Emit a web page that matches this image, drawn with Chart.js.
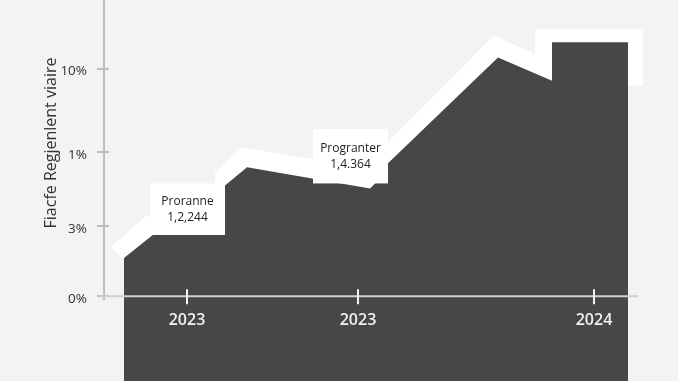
<!DOCTYPE html>
<html>
<head>
<meta charset="utf-8">
<script src="https://cdn.jsdelivr.net/npm/chart.js@4/dist/chart.umd.min.js"></script>
<style>
  html, body { margin: 0; padding: 0; background: #f3f3f3; }
  canvas { display: block; }
</style>
</head>
<body>
<canvas id="chart" width="678" height="381"></canvas>
<script>
// area outline (x in months-ish units, y in axis units)
const areaX = [1.0, 2.45, 6.05, 6.05, 7.15, 13.3, 13.6, 14.2, 14.2, 19.7, 22.4, 22.4, 26.2];
const areaY = [1.52, 2.44, 2.44, 4.4, 5.12, 4.28, 4.52, 4.52, 5.28, 9.48, 8.56, 10.08, 10.08];

// white halo that runs along the top of the area
const haloX = [0.7, 2.3, 6.05, 6.05, 7.05, 13.3, 14.2, 14.2, 19.6, 22.05, 22.05, 26.45, 26.45];
const haloY = [1.68, 2.8, 2.8, 4.76, 5.48, 4.68, 4.88, 5.56, 9.88, 9.0, 10.2, 10.2, 8.36];

const xTickValues = [4.15, 12.7, 24.5];
const xTickLabels = ['2023', '2023', '2024'];
const yTickValues = [0, 2.8, 5.72, 9.04];
const yTickLabels = ['0%', '3%', '1%', '10%'];

const yTitle = 'Fiacfe Regjenlent viaire';

// callout boxes: [xFrom, xTo, yFrom, yTo] in data units + text lines
const callouts = [
  { box: [2.3, 6.05, 2.44, 4.48], lines: ['Proranne', '1,2,244'] },
  { box: [10.45, 14.2, 4.48, 6.64], lines: ['Progranter', '1,4.364'] }
];

const toPoints = (xs, ys) => xs.map((x, i) => ({ x: x, y: ys[i] }));

const decor = {
  id: 'decor',
  afterDatasetsDraw(chart) {
    const { ctx, chartArea, scales: { x, y } } = chart;
    ctx.save();

    // callouts
    callouts.forEach(c => {
      const x1 = x.getPixelForValue(c.box[0]), x2 = x.getPixelForValue(c.box[1]);
      const y1 = y.getPixelForValue(c.box[3]), y2 = y.getPixelForValue(c.box[2]);
      ctx.fillStyle = '#ffffff';
      ctx.fillRect(x1, y1, x2 - x1, y2 - y1);
      ctx.fillStyle = '#222';
      ctx.font = '12px "Open Sans"';
      ctx.textAlign = 'center';
      ctx.textBaseline = 'middle';
      const cx = (x1 + x2) / 2, cy = (y1 + y2) / 2;
      c.lines.forEach((t, i) => ctx.fillText(t, cx, cy + (i - (c.lines.length - 1) / 2) * 16));
    });

    // axes
    const zeroY = y.getPixelForValue(0);
    const left = chartArea.left;
    ctx.lineWidth = 2;
    ctx.strokeStyle = '#bdbdbd';
    ctx.beginPath();
    ctx.moveTo(left, 0);
    ctx.lineTo(left, zeroY + 4);
    yTickValues.forEach(v => {
      const py = Math.round(y.getPixelForValue(v));
      ctx.moveTo(left - 7, py);
      ctx.lineTo(left + 5, py);
    });
    ctx.stroke();

    ctx.strokeStyle = '#cfcfcf';
    ctx.beginPath();
    ctx.moveTo(left - 4, zeroY);
    ctx.lineTo(638, zeroY);
    ctx.stroke();

    ctx.strokeStyle = '#f4f4f4';
    ctx.beginPath();
    xTickValues.forEach(v => {
      const px = Math.round(x.getPixelForValue(v));
      ctx.moveTo(px, zeroY - 7);
      ctx.lineTo(px, zeroY + 8);
    });
    ctx.stroke();

    // y title
    ctx.translate(51, 143);
    ctx.rotate(-Math.PI / 2);
    ctx.fillStyle = '#333';
    ctx.font = '16px "Open Sans"';
    ctx.textAlign = 'center';
    ctx.textBaseline = 'middle';
    ctx.fillText(yTitle, 0, 0);
    ctx.restore();
  }
};

new Chart(document.getElementById('chart'), {
  type: 'line',
  data: {
    datasets: [
      {
        label: 'halo',
        data: toPoints(haloX, haloY),
        borderColor: '#ffffff',
        borderWidth: 20,
        borderCapStyle: 'butt',
        borderJoinStyle: 'miter',
        pointRadius: 0,
        fill: false,
        tension: 0,
        order: 2
      },
      {
        label: 'area',
        data: toPoints(areaX, areaY),
        borderColor: '#484647',
        borderWidth: 0,
        backgroundColor: '#484647',
        pointRadius: 0,
        fill: { value: -3.36 },
        tension: 0,
        order: 1
      }
    ]
  },
  options: {
    responsive: false,
    animation: false,
    layout: { padding: 0 },
    plugins: {
      legend: { display: false },
      tooltip: { enabled: false }
    },
    scales: {
      x: {
        type: 'linear',
        min: 0,
        max: 28.7,
        position: { y: 0 },
        afterBuildTicks: s => { s.ticks = xTickValues.map(v => ({ value: v })); },
        afterFit: s => { s.height = 0; s.paddingLeft = 0; s.paddingRight = 0; },
        grid: { display: false, drawTicks: false },
        border: { display: false },
        ticks: {
          z: 1,
          padding: 15,
          color: '#f2f2f2',
          autoSkip: false,
          maxRotation: 0,
          font: { size: 16, weight: '600', family: '"Open Sans"' },
          callback: (v, i) => xTickLabels[i]
        }
      },
      y: {
        min: -3.36,
        max: 11.76,
        afterBuildTicks: s => { s.ticks = yTickValues.map(v => ({ value: v })); },
        afterFit: s => { s.width = 104; s.paddingTop = 0; s.paddingBottom = 0; },
        grid: { display: true, drawOnChartArea: false, drawTicks: true, tickLength: 8, color: 'rgba(0,0,0,0)' },
        border: { display: false },
        ticks: {
          padding: 9,
          labelOffset: 3,
          color: '#333',
          autoSkip: false,
          font: { size: 13.5, family: '"Open Sans"' },
          callback: (v, i) => yTickLabels[i]
        }
      }
    }
  },
  plugins: [decor]
});
</script>
</body>
</html>
